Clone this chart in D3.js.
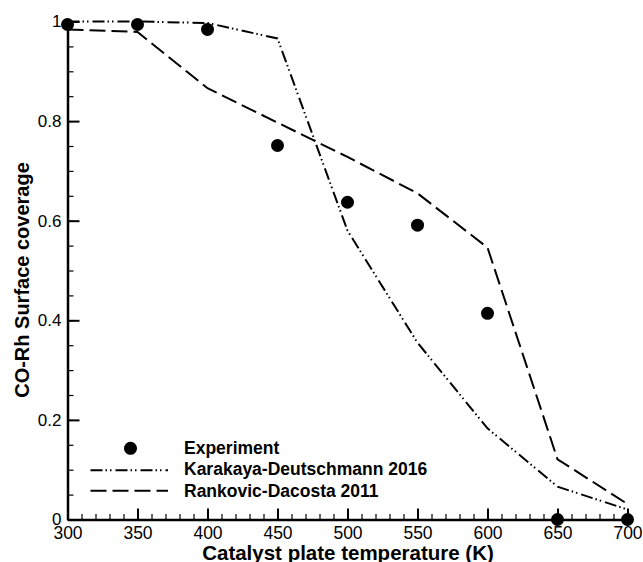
<!DOCTYPE html>
<html>
<head>
<meta charset="utf-8">
<script src="https://cdn.jsdelivr.net/npm/d3@7"></script>
<style>
  body { margin: 0; background: #fff; }
  text { font-family: "Liberation Sans", Arial, Helvetica, sans-serif; fill: #000; }
</style>
</head>
<body>
<div id="chart"></div>
<script>
// datos
var temperaturas = [300, 350, 400, 450, 500, 550, 600, 650, 700];
var experimento = [0.994, 0.994, 0.984, 0.751, 0.637, 0.591, 0.414, 0, 0];
var karakaya = [1.0, 1.0, 0.997, 0.966, 0.58, 0.355, 0.183, 0.066, 0.02];
var rankovic = [0.984, 0.979, 0.866, 0.797, 0.728, 0.655, 0.546, 0.121, 0.031];

var xTicks = [300, 350, 400, 450, 500, 550, 600, 650, 700];
var yTicks = [0, 0.2, 0.4, 0.6, 0.8, 1];
var leyenda = ["Experiment", "Karakaya-Deutschmann 2016", "Rankovic-Dacosta 2011"];

var width = 643, height = 562;

var svg = d3.select("#chart")
    .append("svg")
    .attr("width", width)
    .attr("height", height);

var x = d3.scaleLinear().domain([300, 700]).range([67.5, 627.5]);
var y = d3.scaleLinear().domain([0, 1]).range([519.5, 21.5]);

// ejes menores
svg.append("g")
    .attr("transform", "translate(0," + y(0) + ")")
    .call(d3.axisBottom(x).tickValues(d3.range(300, 701, 10)).tickSize(-5.5).tickSizeOuter(0).tickFormat(""))
    .call(function (g) { g.select(".domain").remove(); })
    .selectAll("line").attr("stroke-width", 1.2);

svg.append("g")
    .attr("transform", "translate(" + x(300) + ",0)")
    .call(d3.axisLeft(y).tickValues(d3.range(0, 1.001, 0.05)).tickSize(-6).tickSizeOuter(0).tickFormat(""))
    .call(function (g) { g.select(".domain").remove(); })
    .selectAll("line").attr("stroke-width", 1.2);

// ejes principales
var gx = svg.append("g")
    .attr("transform", "translate(0," + y(0) + ")")
    .call(d3.axisBottom(x).tickValues(xTicks).tickSize(-11).tickSizeOuter(0).tickPadding(7))
gx.select(".domain").attr("stroke-width", 2.5);
gx.selectAll(".tick line").attr("stroke-width", 2);
gx.selectAll("text").attr("font-size", "17.5px").attr("font-family", null);

var gy = svg.append("g")
    .attr("transform", "translate(" + x(300) + ",0)")
    .call(d3.axisLeft(y).tickValues(yTicks).tickSize(-12).tickSizeOuter(0).tickPadding(6)
        .tickFormat(function (d) { return String(+d.toFixed(1)); }))
gy.select(".domain").attr("stroke-width", 2.5);
gy.selectAll(".tick line").attr("stroke-width", 2);
gy.selectAll("text").attr("font-size", "17px").attr("font-family", null);

// titulos
svg.append("text")
    .attr("x", 348)
    .attr("y", 559.5)
    .attr("text-anchor", "middle")
    .attr("font-size", "20.5px")
    .attr("font-weight", "bold")
    .text("Catalyst plate temperature (K)");

svg.append("text")
    .attr("transform", "translate(29,280) rotate(-90)")
    .attr("text-anchor", "middle")
    .attr("font-size", "20px")
    .attr("font-weight", "bold")
    .text("CO-Rh Surface coverage");

// lineas
var linea = d3.line()
    .x(function (d, i) { return x(temperaturas[i]); })
    .y(function (d) { return y(d); });

svg.append("path")
    .datum(karakaya)
    .attr("fill", "none")
    .attr("stroke", "#000")
    .attr("stroke-width", 2)
    .attr("stroke-dasharray", "12,3,1.5,3,1.5,4")
    .attr("d", linea);

svg.append("path")
    .datum(rankovic)
    .attr("fill", "none")
    .attr("stroke", "#000")
    .attr("stroke-width", 2)
    .attr("stroke-dasharray", "16,6")
    .attr("d", linea);

// puntos experimentales
svg.append("g")
    .selectAll("circle")
    .data(experimento)
    .enter()
    .append("circle")
    .attr("cx", function (d, i) { return x(temperaturas[i]); })
    .attr("cy", function (d) { return y(d); })
    .attr("r", 6.5)
    .attr("fill", "#000");

// leyenda
var gLeyenda = svg.append("g");
gLeyenda.append("circle").attr("cx", 130.5).attr("cy", 448.3).attr("r", 6.5).attr("fill", "#000");
gLeyenda.append("line")
    .attr("x1", 90.5).attr("x2", 168).attr("y1", 470.3).attr("y2", 470.3)
    .attr("stroke", "#000").attr("stroke-width", 2)
    .attr("stroke-dasharray", "12,3,1.5,3,1.5,4");
gLeyenda.append("line")
    .attr("x1", 90.5).attr("x2", 168).attr("y1", 490.7).attr("y2", 490.7)
    .attr("stroke", "#000").attr("stroke-width", 2)
    .attr("stroke-dasharray", "16,6");

gLeyenda.selectAll("text")
    .data(leyenda)
    .enter()
    .append("text")
    .attr("x", 184)
    .attr("y", function (d, i) { return 453.5 + i * 21.6; })
    .attr("font-size", "17.5px")
    .attr("font-weight", "bold")
    .text(function (d) { return d; });
</script>
</body>
</html>
